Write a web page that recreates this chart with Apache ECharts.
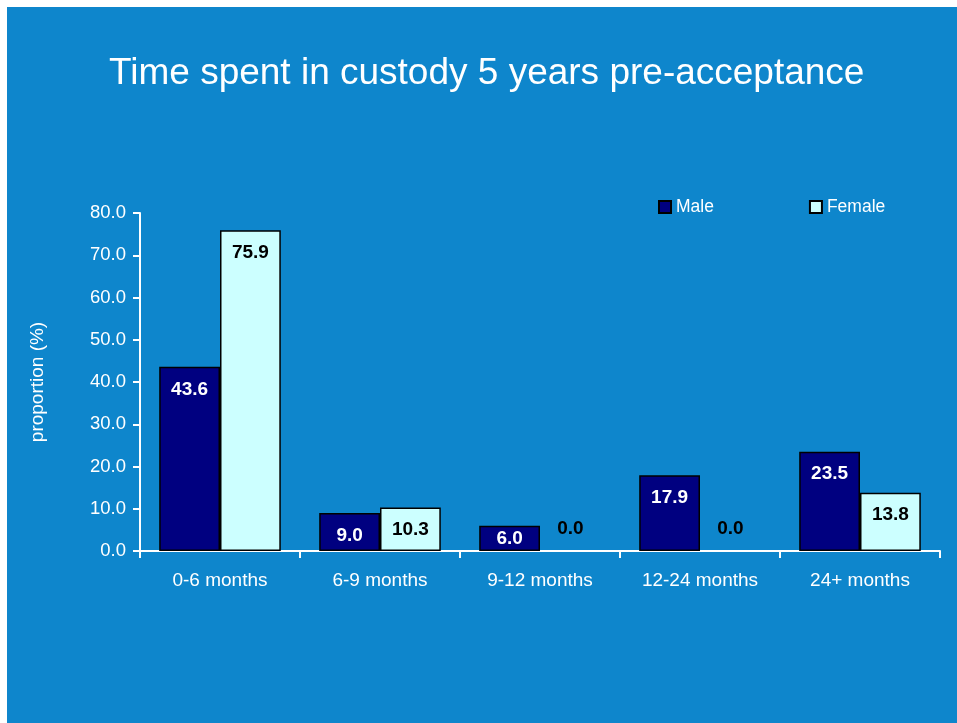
<!DOCTYPE html>
<html><head><meta charset="utf-8">
<script src="https://cdn.jsdelivr.net/npm/echarts@6/dist/echarts.min.js"></script>
<style>html,body{margin:0;padding:0;background:#fff;}#wrap{position:absolute;left:7px;top:7px;width:950px;height:716px;background:#0e86cc;overflow:hidden;}#c{width:957px;height:723px;position:absolute;left:-7px;top:-7px;}</style>
</head><body><div id="wrap"><div id="c"></div></div>
<script>
const categories = ['0-6 months', '6-9 months', '9-12 months', '12-24 months', '24+ months'];
const maleValues = [43.6, 9.0, 6.0, 17.9, 23.5];
const femaleValues = [75.9, 10.3, 0.0, 0.0, 13.8];
const seriesNames = ['Male', 'Female'];
const yTicks = { min: 0, max: 80, interval: 10 };

const font = 'Liberation Sans, Arial, sans-serif';
function makeData(vals, zeroColor) {
  return vals.map(v => {
    if (v === 0) return { value: v, itemStyle: { borderWidth: 0, borderColor: 'transparent', color: 'transparent' }, label: { position: 'top', distance: 13, color: zeroColor } };
    if (v < 8) return { value: v, label: { position: 'inside' } };
    return v;
  });
}
const chart = echarts.init(document.getElementById('c'), null, { renderer: 'canvas' });
chart.setOption({
  backgroundColor: 'transparent',
  animation: false,
  title: {
    text: 'Time spent in custody 5 years pre-acceptance',
    left: 104, top: 50,
    textStyle: { color: '#fff', fontSize: 37, fontWeight: 'normal', fontFamily: font }
  },
  legend: {
    data: seriesNames,
    left: 658, top: 198, padding: 0,
    icon: 'rect', itemWidth: 12, itemHeight: 12, itemGap: 95,
    textStyle: { color: '#fff', fontSize: 17.5, fontFamily: font }
  },
  grid: { left: 140, right: 17, top: 213, bottom: 172 },
  xAxis: {
    type: 'category', data: categories,
    axisLine: { lineStyle: { color: '#fff', width: 2 } },
    axisTick: { show: true, length: 7, lineStyle: { color: '#fff', width: 2 } },
    axisLabel: { color: '#fff', fontSize: 19, fontFamily: font, margin: 20 }
  },
  yAxis: {
    type: 'value', min: yTicks.min, max: yTicks.max, interval: yTicks.interval,
    name: 'proportion (%)', nameLocation: 'middle', nameGap: 93,
    nameTextStyle: { color: '#fff', fontSize: 19, fontFamily: font },
    axisLine: { show: true, lineStyle: { color: '#fff', width: 2 } },
    axisTick: { show: true, length: 7, lineStyle: { color: '#fff', width: 2 } },
    splitLine: { show: false },
    axisLabel: { color: '#fff', fontSize: 18.5, fontFamily: font, margin: 14, formatter: v => v.toFixed(1) }
  },
  series: [
    {
      name: seriesNames[0], type: 'bar', data: makeData(maleValues, '#000'),
      barGap: '0%', barCategoryGap: '24%',
      itemStyle: { color: '#000080', borderColor: '#000', borderWidth: 1.5 },
      label: { show: true, position: 'insideTop', distance: 13, color: '#fff', fontSize: 19, fontWeight: 'bold', fontFamily: font, formatter: p => p.value.toFixed(1) }
    },
    {
      name: seriesNames[1], type: 'bar', data: makeData(femaleValues, '#000'),
      itemStyle: { color: '#ccffff', borderColor: '#000', borderWidth: 1.5 },
      label: { show: true, position: 'insideTop', distance: 13, color: '#000', fontSize: 19, fontWeight: 'bold', fontFamily: font, formatter: p => p.value.toFixed(1) }
    }
  ]
});
</script>
</body></html>
